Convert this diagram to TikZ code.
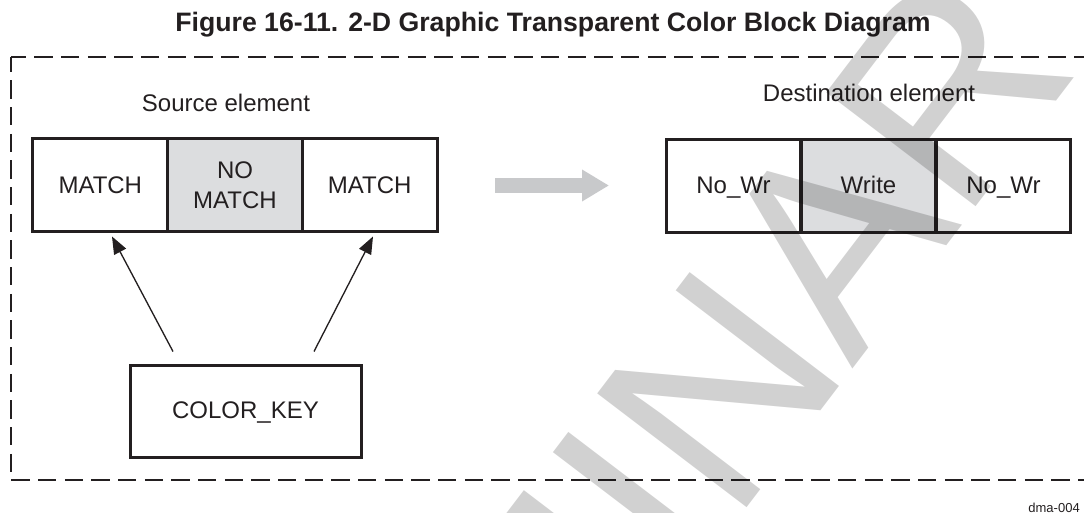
\documentclass[tikz,border=0pt]{standalone}
\usepackage{fontspec}
\setmainfont{Liberation Sans}
\usetikzlibrary{arrows.meta,calc}
\definecolor{ink}{HTML}{231F20}
\definecolor{cellgray}{HTML}{DCDDDF}
\definecolor{arrowgray}{HTML}{C8C9CB}
\begin{document}
\begin{tikzpicture}[x=0.75pt,y=-0.75pt,
  cell/.style={draw=ink, line width=2.25pt, minimum width=101pt, minimum height=69.75pt,
    inner sep=0pt, text=ink, font=\fontsize{18}{22.5}\selectfont, align=center},
  onecell/.style={cell, text height=12.9pt, text depth=1.5pt},
  graycell/.style={fill=cellgray},
  keybox/.style={draw=ink, line width=2.25pt, minimum width=173.25pt, minimum height=69pt,
    inner sep=0pt, text=ink, font=\fontsize{18}{21}\selectfont, text height=12.9pt, text depth=1.5pt},
  lbl/.style={text=ink, font=\fontsize{18}{21}\selectfont, inner sep=0pt, anchor=base},
  frame/.style={draw=ink, line width=2pt, dash pattern=on 13.7pt off 6.3pt, dash phase=2.4pt},
  keyarrow/.style={draw=ink, line width=1pt, -{Triangle[length=13pt,width=10pt]}},
  flowarrow/.style={draw=arrowgray, line width=11.25pt, -{Triangle[length=20.25pt,width=22.5pt]}},
  wm/.style={rotate=52.7, anchor=base west, inner sep=0pt, text=black, text opacity=0.18,
    font=\fontsize{204.75}{204.75}\selectfont}
]
\useasboundingbox (0,0) rectangle (1084,513);

% title
\node[text=ink, font=\bfseries\fontsize{20}{24}\selectfont, anchor=base, inner sep=0pt] (title) at (553,32)
  {Figure 16-11. 2-D Graphic Transparent Color Block Diagram};

% dashed frame
\draw[frame] (11,57) -- (1084,57);
\draw[frame] (11,57) -- (11,480) -- (1084,480);

% labels
\node[lbl] (srclbl) at (226,112) {Source element};
\node[lbl] (dstlbl) at (869,102) {Destination element};

% source element
\node[onecell] (m1) at (100.3,185.5) {MATCH};
\node[cell, graycell] (m2) at (235,185.5) {NO\\MATCH};
\node[onecell] (m3) at (369.7,185.5) {MATCH};

% destination element
\node[onecell] (d1) at (733.5,186) {No\_Wr};
\node[onecell, graycell] (d2) at (868.5,186) {Write};
\node[onecell] (d3) at (1003.5,186) {No\_Wr};

% flow arrow
\coordinate (fa) at (495,185.5);
\coordinate (fb) at (609,185.5);
\draw[flowarrow] (fa) -- (fb);

% color key
\node[keybox] (ck) at (245.5,411) {COLOR\_KEY};
\coordinate (k1) at ($(ck.north)+(-72.5,-12)$);
\coordinate (k2) at ($(ck.north)+(68.5,-12)$);
\coordinate (t1) at ($(m1.south)+(11.7,3)$);
\coordinate (t2) at ($(m3.south)+(3.3,3)$);
\draw[keyarrow] (k1) -- (t1);
\draw[keyarrow] (k2) -- (t2);

% figure id
\node[text=ink, font=\fontsize{9.75}{11}\selectfont, anchor=base east, inner sep=0pt] (fid) at (1080,512) {dma-004};

% watermark
\begin{scope}
\clip (0,0) rectangle (1084,513);
\node[wm] (wmark) at (71,1395) {PRELIMINARY};
\end{scope}
\end{tikzpicture}
\end{document}
